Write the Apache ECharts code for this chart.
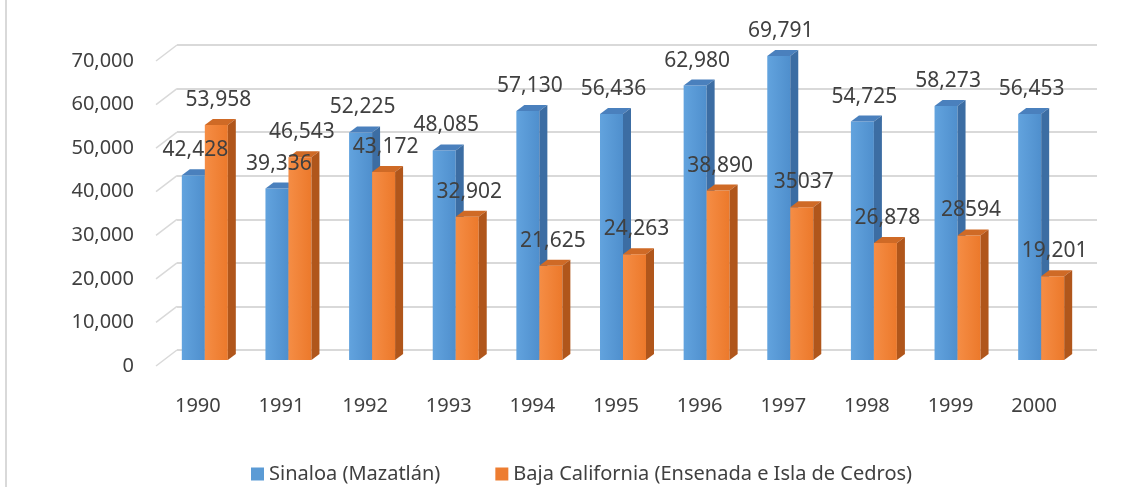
<!DOCTYPE html>
<html>
<head>
<meta charset="utf-8">
<title>Sinaloa vs Baja California</title>
<script src="https://cdn.jsdelivr.net/npm/echarts@6/dist/echarts.min.js"></script>
<style>
    html, body { margin: 0; padding: 0; background: #fff; }
    #chart { width: 1147px; height: 487px; }
</style>
</head>
<body>
<div id="chart"></div>
<script>
// data
const years = ['1990', '1991', '1992', '1993', '1994', '1995', '1996', '1997', '1998', '1999', '2000'];
const sinaloa = [42428, 39336, 52225, 48085, 57130, 56436, 62980, 69791, 54725, 58273, 56453];
const baja = [53958, 46543, 43172, 32902, 21625, 24263, 38890, 35037, 26878, 28594, 19201];
// labels as printed (two of them have no thousands separator)
const sinaloaLabels = ['42,428', '39,336', '52,225', '48,085', '57,130', '56,436', '62,980', '69,791', '54,725', '58,273', '56,453'];
const bajaLabels = ['53,958', '46,543', '43,172', '32,902', '21,625', '24,263', '38,890', '35037', '26,878', '28594', '19,201'];
const yTicks = [0, 10000, 20000, 30000, 40000, 50000, 60000, 70000];

const FONT = '"Noto Sans", "Open Sans", sans-serif';
const TEXT = '#404040';
const GRID_LINE = '#d9d9d9';

// fake 3D depth of a bar
const DEPTH_X = 8;
const DEPTH_Y = -6;
const BAR_W = 23;

// shared y axis settings
function valueAxis(gridIndex, opts) {
    return Object.assign({
        type: 'value',
        gridIndex: gridIndex,
        min: 0,
        max: 70000,
        interval: 10000,
        axisLine: { show: false },
        axisTick: { show: false },
        axisLabel: { show: false },
        splitLine: { show: false }
    }, opts || {});
}

function categoryAxis(gridIndex, opts) {
    return Object.assign({
        type: 'category',
        gridIndex: gridIndex,
        data: years,
        axisLine: { show: false },
        axisTick: { show: false },
        axisLabel: { show: false },
        splitLine: { show: false }
    }, opts || {});
}

// one 3D column: front face, top face, side face, label
function makeBarRenderer(side, colors, labels) {
    return function (params, api) {
        const idx = api.value(0);
        const val = api.value(1);
        const base = api.coord([idx, 0]);
        const top = api.coord([idx, val]);
        const x0 = side === 'left' ? base[0] - BAR_W : base[0];
        const x1 = x0 + BAR_W;
        const yTop = top[1];
        const yBot = base[1];

        return {
            type: 'group',
            children: [
                {
                    type: 'rect',
                    shape: { x: x0, y: yTop, width: BAR_W, height: yBot - yTop },
                    style: {
                        fill: new echarts.graphic.LinearGradient(0, 0, 1, 0, [
                            { offset: 0, color: colors.frontA },
                            { offset: 1, color: colors.frontB }
                        ])
                    }
                },
                {
                    type: 'polygon',
                    shape: { points: [[x0, yTop], [x1, yTop], [x1 + DEPTH_X, yTop + DEPTH_Y], [x0 + DEPTH_X, yTop + DEPTH_Y]] },
                    style: { fill: colors.top }
                },
                {
                    type: 'polygon',
                    shape: { points: [[x1, yTop], [x1 + DEPTH_X, yTop + DEPTH_Y], [x1 + DEPTH_X, yBot + DEPTH_Y], [x1, yBot]] },
                    style: { fill: colors.side }
                },
                {
                    type: 'text',
                    z2: 100,
                    style: {
                        x: (x0 + x1) / 2 + 2,
                        y: yTop - 25,
                        text: labels[params.dataIndex],
                        fill: TEXT,
                        font: '21px ' + FONT,
                        align: 'center',
                        verticalAlign: 'middle'
                    }
                }
            ]
        };
    };
}

// slanted lines joining the front edge of the floor to the back wall
function renderDiagonal(params, api) {
    const v = api.value(0);
    const y = api.coord([0, v])[1];
    const x = params.coordSys.x;
    return {
        type: 'line',
        shape: { x1: x, y1: y, x2: x + 21, y2: y - 16 },
        style: { stroke: GRID_LINE, lineWidth: 1.5 }
    };
}

function initChart() {
    const chart = echarts.init(document.getElementById('chart'));

    const option = {
        backgroundColor: '#fff',
        animation: false,
        textStyle: { fontFamily: FONT },
        graphic: [
            {
                type: 'line',
                shape: { x1: 6, y1: 0, x2: 6, y2: 487 },
                style: { stroke: GRID_LINE, lineWidth: 2 }
            }
        ],
        legend: {
            left: 246,
            top: 459,
            icon: 'rect',
            itemWidth: 13,
            itemHeight: 13,
            itemGap: 55,
            textStyle: { color: TEXT, fontSize: 20, fontFamily: FONT },
            data: ['Sinaloa (Mazatlán)', 'Baja California (Ensenada e Isla de Cedros)']
        },
        grid: [
            // 0: front plane, holds the axis labels
            { left: 156, top: 61, width: 920, height: 305 },
            // 1: back wall with the gridlines
            { left: 177, top: 45, width: 920, height: 305 },
            // 2: plane of the bar fronts
            { left: 163, top: 55, width: 920, height: 305 }
        ],
        xAxis: [
            categoryAxis(0, {
                axisLabel: { show: true, color: TEXT, fontSize: 20, fontFamily: FONT, margin: 30 }
            }),
            categoryAxis(1),
            categoryAxis(2)
        ],
        yAxis: [
            valueAxis(0, {
                axisLabel: {
                    show: true,
                    color: TEXT,
                    fontSize: 20,
                    fontFamily: FONT,
                    margin: 22,
                    formatter: v => v.toLocaleString('en-US')
                }
            }),
            valueAxis(1, {
                splitLine: { show: true, lineStyle: { color: GRID_LINE, width: 2 } }
            }),
            valueAxis(2)
        ],
        series: [
            {
                name: 'floor-edges',
                type: 'custom',
                xAxisIndex: 0,
                yAxisIndex: 0,
                silent: true,
                renderItem: renderDiagonal,
                encode: { x: -1, y: 0 },
                data: yTicks.map(v => [v])
            },
            {
                name: 'Sinaloa (Mazatlán)',
                type: 'custom',
                xAxisIndex: 2,
                yAxisIndex: 2,
                itemStyle: { color: '#5b9bd5' },
                renderItem: makeBarRenderer('left', {
                    frontA: '#62a3de', frontB: '#4f8fcd', top: '#4a80bd', side: '#3c6da3'
                }, sinaloaLabels),
                encode: { x: 0, y: 1 },
                data: sinaloa.map((v, i) => [i, v])
            },
            {
                name: 'Baja California (Ensenada e Isla de Cedros)',
                type: 'custom',
                xAxisIndex: 2,
                yAxisIndex: 2,
                itemStyle: { color: '#ed7d31' },
                renderItem: makeBarRenderer('right', {
                    frontA: '#f58d45', frontB: '#ec792b', top: '#cf6a26', side: '#b0561b'
                }, bajaLabels),
                encode: { x: 0, y: 1 },
                data: baja.map((v, i) => [i, v])
            }
        ]
    };

    chart.setOption(option);
}

document.addEventListener('DOMContentLoaded', initChart);
</script>
</body>
</html>
